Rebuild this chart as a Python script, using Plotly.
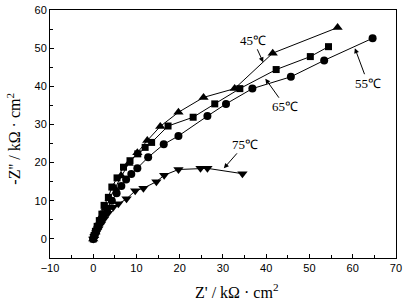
import plotly.graph_objects as go

# 45 °C (triangle-up)
x45 = [0, 0.2, 0.5, 0.9, 1.4, 2.0, 2.8, 3.8, 5.0, 6.5, 8.2, 10.2, 12.5, 15.5, 19.7, 25.5, 32.7, 41.5, 56.5]
y45 = [0, 0.8, 1.8, 3.0, 4.4, 6.0, 8.0, 10.5, 13.3, 16.5, 19.8, 22.6, 25.8, 29.5, 33.2, 37.1, 39.4, 48.7, 55.4]

# 55 °C (circle)
x55 = [0, 0.3, 0.6, 1.0, 1.6, 2.3, 3.2, 4.3, 5.4, 6.5, 7.6, 8.8, 10.2, 12.7, 16.3, 19.7, 26.4, 30.7, 36.8, 45.7, 53.4, 64.6]
y55 = [0, 0.8, 1.8, 3.0, 4.5, 6.2, 8.0, 10.0, 12.0, 13.9, 15.6, 17.0, 18.5, 21.4, 24.8, 27.0, 32.2, 35.4, 39.4, 42.5, 46.8, 52.6]

# 65 °C (square)
x65 = [0, 0.2, 0.5, 0.9, 1.4, 2.0, 2.5, 3.5, 4.3, 5.5, 7.0, 8.5, 10.3, 12.0, 13.5, 17.3, 23.1, 28.1, 33.9, 42.3, 50.2, 54.4]
y65 = [0, 0.9, 2.0, 3.3, 4.8, 6.5, 8.8, 10.9, 13.6, 16.0, 18.8, 20.5, 22.3, 24.0, 25.3, 29.6, 31.9, 35.4, 39.4, 44.4, 47.8, 50.4]

# 75 °C (triangle-down)
x75 = [0, 0.3, 0.7, 1.2, 1.8, 2.5, 3.4, 4.6, 5.8, 7.7, 9.7, 11.6, 14.6, 16.4, 19.7, 24.8, 26.4, 34.5]
y75 = [0, 0.7, 1.6, 2.7, 3.9, 5.2, 6.7, 8.3, 9.2, 10.5, 12.6, 13.3, 15.0, 16.7, 18.2, 18.5, 18.5, 17.1]

series = [
    (x45, y45, "triangle-up", 9, "45℃"),
    (x55, y55, "circle", 8, "55℃"),
    (x65, y65, "square", 7, "65℃"),
    (x75, y75, "triangle-down", 9, "75℃"),
]

fig = go.Figure()
for xs, ys, sym, sz, name in series:
    fig.add_trace(go.Scatter(
        x=xs, y=ys, mode="lines+markers", name=name,
        line=dict(color="black", width=1),
        marker=dict(symbol=sym, size=sz, color="black"),
        showlegend=False,
    ))

serif = "Times New Roman, Liberation Serif, serif"
sans = "Arial, Liberation Sans, sans-serif"

# labels with arrows: arrow head in data coords, text offset in pixels
labels = [
    ("45℃", 39.3, 46.3, -10, -22),
    ("65℃", 39.8, 42.0, 20, 28),
    ("55℃", 60.5, 50.0, 13, 35),
    ("75℃", 30.2, 18.5, 21, -24),
]
for t, hx, hy, ax, ay in labels:
    fig.add_annotation(x=hx, y=hy, ax=ax, ay=ay, text=t, showarrow=True,
                       arrowhead=2, arrowsize=1, arrowwidth=1, arrowcolor="black",
                       font=dict(family=serif, size=13, color="black"))

# axis titles
fig.add_annotation(xref="paper", yref="paper", x=0.54, y=-0.135,
                   text="Z' / kΩ · cm<sup>2</sup>", showarrow=False,
                   xanchor="center", yanchor="middle",
                   font=dict(family=serif, size=16, color="black"))
fig.add_annotation(xref="paper", yref="paper", x=-0.105, y=0.48,
                   text="-Z'' / kΩ · cm<sup>2</sup>", showarrow=False, textangle=-90,
                   xanchor="center", yanchor="middle",
                   font=dict(family=serif, size=16, color="black"))

axis_common = dict(
    showline=True, linecolor="black", linewidth=1, mirror=True,
    ticks="inside", ticklen=4, tickwidth=1, tickcolor="black",
    showgrid=False, zeroline=False, ticklabeloverflow="allow",
    tickfont=dict(family=sans, size=11, color="black"),
    minor=dict(ticks="inside", ticklen=3, tickwidth=1, tickcolor="black", dtick=5, showgrid=False),
)

fig.update_xaxes(range=[-10, 70.01], dtick=10, tick0=0, **axis_common)
fig.update_yaxes(range=[-5, 60.01], dtick=10, tick0=0, **axis_common)

fig.update_layout(
    width=406, height=300,
    margin=dict(l=50, r=4, t=6, b=42),
    paper_bgcolor="white", plot_bgcolor="white",
)

fig.write_html("out.html")
